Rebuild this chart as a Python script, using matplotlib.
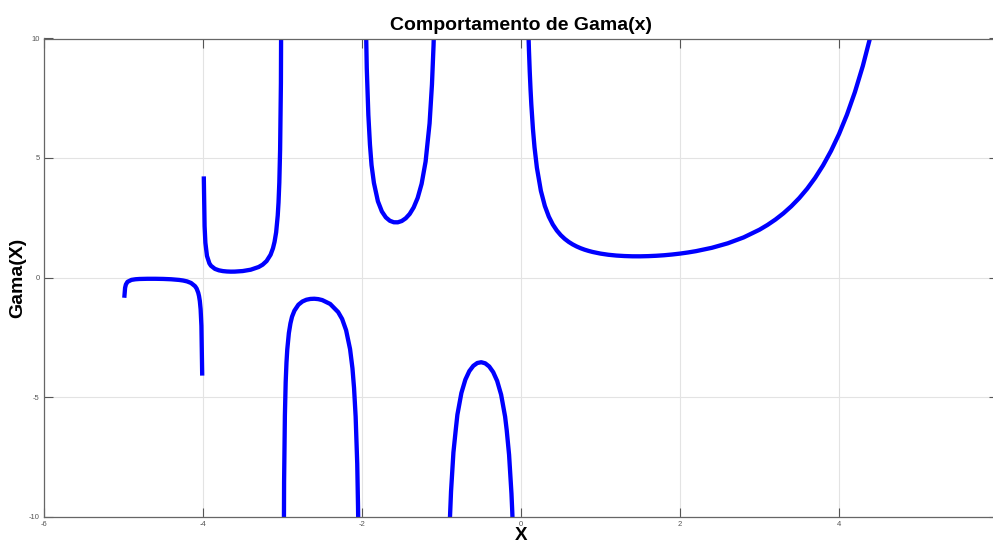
import numpy as np
import matplotlib
matplotlib.use("Agg")
from matplotlib import pyplot as plt

plt.rcParams['font.family'] = ['Liberation Sans', 'DejaVu Sans']
plt.rcParams['axes.unicode_minus'] = False

# values, one list pair per branch between the poles
x_b1 = [-4.99, -4.98, -4.97, -4.95, -4.9, -4.85, -4.8, -4.7, -4.6, -4.5, -4.4,
        -4.3, -4.25, -4.2, -4.15, -4.1, -4.08, -4.06, -4.05, -4.04, -4.03,
        -4.02, -4.01]
y_b1 = [-0.848, -0.431, -0.293, -0.182, -0.100, -0.074, -0.062, -0.054,
        -0.054, -0.060, -0.074, -0.102, -0.126, -0.164, -0.230, -0.364,
        -0.463, -0.638, -0.776, -0.983, -1.329, -2.023, -4.105]

x_b2 = [-3.99, -3.98, -3.97, -3.95, -3.92, -3.9, -3.85, -3.8, -3.75, -3.7,
        -3.65, -3.6, -3.5, -3.4, -3.3, -3.25, -3.2, -3.15, -3.12, -3.1, -3.08,
        -3.06, -3.05, -3.04, -3.03, -3.02, -3.01]
y_b2 = [4.231, 2.148, 1.455, 0.902, 0.594, 0.492, 0.361, 0.300, 0.268, 0.252,
        0.245, 0.247, 0.270, 0.326, 0.439, 0.536, 0.689, 0.952, 1.221, 1.492,
        1.891, 2.590, 3.142, 3.972, 5.357, 8.131, 16.46]

x_b3 = [-2.99, -2.98, -2.97, -2.96, -2.95, -2.94, -2.92, -2.9, -2.88, -2.85,
        -2.8, -2.75, -2.7, -2.65, -2.6, -2.55, -2.5, -2.4, -2.3, -2.25, -2.2,
        -2.15, -2.12, -2.1, -2.08, -2.06, -2.05, -2.04]
y_b3 = [-16.88, -8.55, -5.777, -4.38, -3.563, -3.01, -2.327, -1.918, -1.64,
        -1.388, -1.139, -1.005, -0.931, -0.897, -0.889, -0.905, -0.945, -1.108,
        -1.447, -1.735, -2.205, -3.000, -3.80, -4.626, -5.823, -7.79, -9.584,
        -12.07]

x_b4 = [-1.95, -1.94, -1.92, -1.9, -1.88, -1.85, -1.8, -1.75, -1.7, -1.65,
        -1.6, -1.55, -1.5, -1.45, -1.4, -1.35, -1.3, -1.25, -1.2, -1.15, -1.12,
        -1.1, -1.09]
y_b4 = [10.51, 8.76, 6.79, 5.563, 4.70, 3.956, 3.188, 2.762, 2.514, 2.374,
        2.311, 2.309, 2.363, 2.477, 2.659, 2.932, 3.328, 3.921, 4.851, 6.449,
        8.074, 9.715, 10.81]

x_b5 = [-0.9, -0.88, -0.85, -0.82, -0.8, -0.75, -0.7, -0.65, -0.6, -0.55,
        -0.5, -0.45, -0.4, -0.35, -0.3, -0.25, -0.2, -0.18, -0.15, -0.12,
        -0.11, -0.1]
y_b5 = [-10.57, -8.949, -7.318, -6.35, -5.739, -4.834, -4.274, -3.917,
        -3.697, -3.578, -3.545, -3.591, -3.723, -3.958, -4.327, -4.902,
        -5.821, -6.38, -7.417, -9.04, -9.79, -10.69]

x_b6 = [0.09, 0.1, 0.11, 0.12, 0.13, 0.15, 0.17, 0.2, 0.25, 0.3, 0.35, 0.4,
        0.45, 0.5, 0.55, 0.6, 0.65, 0.7, 0.75, 0.8, 0.85, 0.9, 1.0, 1.1, 1.2,
        1.3, 1.4, 1.5, 1.6, 1.7, 1.8, 1.9, 2.0, 2.1, 2.2, 2.4, 2.6, 2.8, 3.0,
        3.1, 3.2, 3.3, 3.4, 3.5, 3.6, 3.7, 3.8, 3.9, 4.0, 4.1, 4.2, 4.3, 4.4,
        4.5]
y_b6 = [10.62, 9.514, 8.61, 7.863, 7.23, 6.220, 5.45, 4.591, 3.626, 2.992,
        2.546, 2.218, 1.968, 1.772, 1.616, 1.489, 1.385, 1.298, 1.225, 1.164,
        1.113, 1.069, 1.000, 0.951, 0.918, 0.898, 0.887, 0.886, 0.894, 0.909,
        0.931, 0.962, 1.000, 1.047, 1.102, 1.242, 1.430, 1.677, 2.000, 2.198,
        2.424, 2.683, 2.981, 3.323, 3.717, 4.171, 4.694, 5.299, 6.000, 6.813,
        7.757, 8.855, 10.14, 11.63]

branches = [(x_b1, y_b1), (x_b2, y_b2), (x_b3, y_b3),
            (x_b4, y_b4), (x_b5, y_b5), (x_b6, y_b6)]

fig = plt.figure(figsize=(9.93, 5.43), dpi=100)
ax = fig.add_axes([44/993, 1 - 516.5/543, (998 - 44)/993, (516.5 - 38.5)/543])

for bx, by in branches:
    ax.plot(bx, by, '-', color=(0, 0, 1), lw=3.1, solid_capstyle='butt',
            solid_joinstyle='round')

ax.set_xlim(-6, 6)
ax.set_ylim(-10, 10)
ax.set_xticks([-6, -4, -2, 0, 2, 4])
ax.set_yticks([-10, -5, 0, 5, 10])
ax.grid(True, color='#e3e3e3', lw=0.8)
ax.set_axisbelow(True)
ax.tick_params(direction='in', length=6.5, width=0.8, color='#555555',
               labelsize=5.5, labelcolor='#555555', top=True, right=True, pad=3)
for s in ax.spines.values():
    s.set_color('#666666')
    s.set_linewidth(0.9)

ax.set_title('Comportamento de Gama(x)', fontsize=14, fontweight='bold', pad=6)
ax.set_xlabel('X', fontsize=13.5, fontweight='bold')
ax.set_ylabel('Gama(X)', fontsize=14, fontweight='bold')
ax.xaxis.set_label_coords(0.5, -0.021)
ax.yaxis.set_label_coords(-0.019, 0.5)

fig.savefig('out.png', dpi=100)
